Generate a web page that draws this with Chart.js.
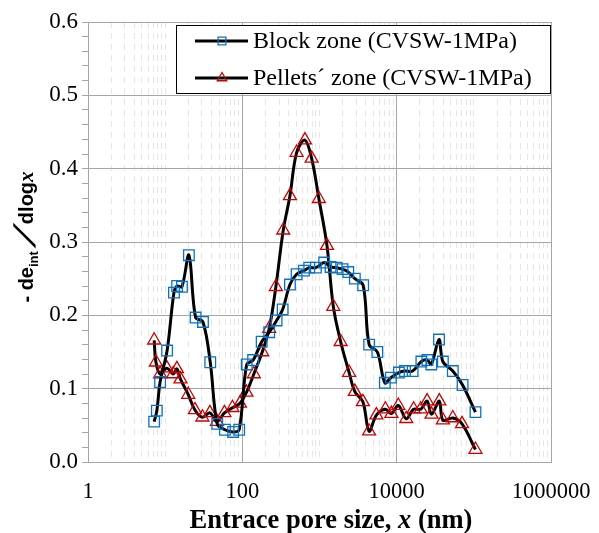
<!DOCTYPE html>
<html>
<head>
<meta charset="utf-8">
<script src="https://cdn.jsdelivr.net/npm/chart.js@4.4.1/dist/chart.umd.min.js"></script>
<style>
  body { margin: 0; background: #fff; }
  #wrap { width: 599px; height: 533px; position: relative; }
</style>
</head>
<body>
<div id="wrap"><canvas id="poreChart"></canvas></div>
<script>
// Pore size distribution (x in nm)
const blockX = [7.2, 7.8, 8.6, 10.6, 13.0, 14.3, 16.5, 20.3, 24.8, 30.9,
    38.4, 47.3, 59.5, 76, 91, 114, 138, 178, 223, 278,
    333, 414, 505, 628, 736, 898, 1150, 1390, 1670, 1990,
    2360, 2870, 3680, 4400, 5620, 7030, 8410, 10700, 12800, 16100,
    20900, 25000, 28100, 35400, 39700, 53400, 71500, 105000];
const blockY = [0.055, 0.070, 0.109, 0.152, 0.231, 0.240, 0.239, 0.282, 0.197, 0.191,
    0.136, 0.052, 0.044, 0.041, 0.044, 0.133, 0.139, 0.164, 0.177, 0.193,
    0.208, 0.242, 0.256, 0.261, 0.265, 0.265, 0.272, 0.266, 0.265, 0.263,
    0.259, 0.250, 0.241, 0.160, 0.150, 0.108, 0.115, 0.122, 0.124, 0.124,
    0.137, 0.139, 0.133, 0.167, 0.137, 0.124, 0.105, 0.068];

const pelletX = [7.2, 7.6, 8.6, 10.5, 12.7, 14.2, 15.8, 19.9, 24.3, 30.4,
    38.0, 46.9, 58.6, 74.5, 93.1, 113, 141, 181, 223, 272,
    339, 414, 505, 647, 791, 982, 1250, 1510, 1880, 2420,
    2870, 3650, 4390, 5460, 7140, 8540, 10500, 13300, 16600, 20500,
    24800, 28300, 35700, 39700, 53400, 70300, 105000];
const pelletY = [0.166, 0.136, 0.120, 0.128, 0.120, 0.127, 0.113, 0.092, 0.071, 0.061,
    0.067, 0.055, 0.067, 0.074, 0.080, 0.095, 0.120, 0.150, 0.182, 0.239,
    0.316, 0.363, 0.422, 0.439, 0.414, 0.359, 0.295, 0.212, 0.164, 0.122,
    0.096, 0.082, 0.042, 0.064, 0.072, 0.066, 0.077, 0.059, 0.072, 0.072,
    0.083, 0.065, 0.083, 0.057, 0.060, 0.052, 0.017];

const seriesLabels = ['Block zone (CVSW-1MPa)', 'Pellets\u00b4 zone (CVSW-1MPa)'];
const xLabelValues = [1, 100, 10000, 1000000]; // labelled (and solid) vertical lines

const serif = '"Liberation Serif", "Times New Roman", serif';
const sans = '"Liberation Sans", Arial, sans-serif';
const gridGray = '#a6a6a6';

function toPoints(xs, ys) {
    return xs.map((x, i) => ({ x: x, y: ys[i] }));
}

// every 1..9 x 10^n between 1 and 1e6
function logTicks() {
    const out = [];
    for (let d = 0; d < 6; d++) {
        for (let m = 1; m <= 9; m++) out.push({ value: m * Math.pow(10, d) });
    }
    out.push({ value: 1000000 });
    return out;
}

function isMajorY(v) {
    return Math.round(v * 100) % 10 === 0;
}

function partWidth(ctx, p) {
    ctx.font = p.font;
    return p.advance || ctx.measureText(p.text).width;
}

// draw a run of text pieces with different fonts on one baseline
function drawParts(ctx, parts, x, y) {
    let w = 0;
    parts.forEach(p => { w += partWidth(ctx, p); });
    let cx = x - w / 2;
    parts.forEach(p => {
        const pw = partWidth(ctx, p);
        ctx.font = p.font;
        if (p.skew) {
            ctx.save();
            ctx.translate(cx + (p.shift || 0), y + (p.dy || 0));
            ctx.transform(1, 0, -p.skew, 1, 0, 0);
            ctx.fillText(p.text, 0, 0);
            ctx.restore();
        } else {
            ctx.fillText(p.text, cx, y + (p.dy || 0));
        }
        cx += pw;
    });
}

const axisTitles = {
    id: 'axisTitles',
    afterDraw(chart) {
        const ctx = chart.ctx;
        ctx.save();
        ctx.fillStyle = '#000';
        ctx.textAlign = 'left';
        ctx.textBaseline = 'alphabetic';
        drawParts(ctx, [
            { text: 'Entrace pore size, ', font: 'bold 26.5px ' + serif },
            { text: 'x', font: 'italic bold 26.5px ' + serif },
            { text: ' (nm)', font: 'bold 26.5px ' + serif }
        ], 331, 528);

        ctx.translate(33, 237);
        ctx.rotate(-Math.PI / 2);
        drawParts(ctx, [
            { text: '- de', font: 'bold 20px ' + sans },
            { text: 'int', font: 'bold 13px ' + sans, dy: 5 },
            { text: '/', font: 'bold 30px ' + sans, skew: 0.8, advance: 27, shift: 3, dy: 2 },
            { text: 'dlog', font: 'bold 20px ' + sans },
            { text: 'x', font: 'italic bold 21px ' + serif }
        ], 0, 0);
        ctx.restore();
    }
};

// boxed legend inside the plot, top right
const boxLegend = {
    id: 'boxLegend',
    afterDraw(chart) {
        const ctx = chart.ctx;
        const a = chart.chartArea;
        const left = a.left + 88, top = a.top + 3, right = a.right, bottom = a.top + 72;
        ctx.save();
        ctx.fillStyle = '#fff';
        ctx.fillRect(left, top, right - left, bottom - top);
        ctx.strokeStyle = '#000';
        ctx.lineWidth = 1;
        ctx.strokeRect(left + 0.5, top + 0.5, right - left - 1, bottom - top - 1);
        chart.data.datasets.forEach((ds, i) => {
            const y = top + 16 + i * 37;
            ctx.strokeStyle = '#000';
            ctx.lineWidth = 3;
            ctx.beginPath();
            ctx.moveTo(left + 19, y);
            ctx.lineTo(left + 72, y);
            ctx.stroke();
            ctx.strokeStyle = ds.pointBorderColor;
            ctx.fillStyle = 'rgba(0,0,0,0)';
            ctx.lineWidth = 1.3;
            Chart.helpers.drawPoint(ctx, { pointStyle: ds.pointStyle, radius: 5.5, borderWidth: 1.3, rotation: 0 }, left + 46, y);
            ctx.fillStyle = '#000';
            ctx.font = '24px ' + serif;
            ctx.textAlign = 'left';
            ctx.textBaseline = 'middle';
            ctx.fillText(ds.label, left + 77, y + 1);
        });
        ctx.restore();
    }
};

const chart = new Chart(document.getElementById('poreChart'), {
    type: 'line',
    data: {
        datasets: [
            {
                label: seriesLabels[0],
                data: toPoints(blockX, blockY),
                borderColor: '#000',
                borderWidth: 3,
                tension: 0.35,
                pointStyle: 'rect',
                pointRadius: 7.5,
                pointBorderWidth: 1.3,
                pointBorderColor: '#0a72c4',
                pointBackgroundColor: 'rgba(0,0,0,0)'
            },
            {
                label: seriesLabels[1],
                data: toPoints(pelletX, pelletY),
                borderColor: '#000',
                borderWidth: 3,
                tension: 0.35,
                pointStyle: 'triangle',
                pointRadius: 7.5,
                pointBorderWidth: 1.3,
                pointBorderColor: '#cc0000',
                pointBackgroundColor: 'rgba(0,0,0,0)'
            }
        ]
    },
    options: {
        responsive: true,
        maintainAspectRatio: false,
        animation: false,
        layout: { padding: { top: 22, right: 48, left: 0, bottom: 0 } },
        plugins: {
            legend: { display: false },
            tooltip: { enabled: false }
        },
        scales: {
            x: {
                type: 'logarithmic',
                min: 1,
                max: 1000000,
                afterBuildTicks: s => { s.ticks = logTicks(); },
                afterFit: s => {
                    s.height = 71;
                    s.paddingRight = 0;   // let the layout padding decide the plot's right edge
                },
                ticks: {
                    autoSkip: false,
                    maxRotation: 0,
                    padding: 17,
                    color: '#000',
                    font: { family: serif, size: 22.5 },
                    callback: v => xLabelValues.includes(v) ? String(v) : ''
                },
                grid: {
                    drawTicks: false,
                    color: c => (c.tick && xLabelValues.includes(c.tick.value)) ? gridGray : '#e6e6e6'
                },
                border: {
                    color: gridGray,
                    dash: c => (c.tick && !xLabelValues.includes(c.tick.value)) ? [6, 5] : []
                }
            },
            y: {
                min: 0,
                max: 0.6,
                afterBuildTicks: s => {
                    s.ticks = [];
                    for (let i = 0; i <= 30; i++) s.ticks.push({ value: Math.round(i * 2) / 100 });
                },
                afterFit: s => { s.width = 88; },
                ticks: {
                    autoSkip: false,
                    padding: 4,
                    color: '#000',
                    font: { family: serif, size: 23 },
                    callback: v => isMajorY(v) ? v.toFixed(1) : ''
                },
                grid: {
                    color: c => (c.tick && isMajorY(c.tick.value)) ? gridGray : 'rgba(0,0,0,0)',
                    tickColor: gridGray,
                    tickLength: 6
                },
                border: { color: gridGray }
            }
        }
    },
    plugins: [axisTitles, boxLegend]
});
</script>
</body>
</html>
